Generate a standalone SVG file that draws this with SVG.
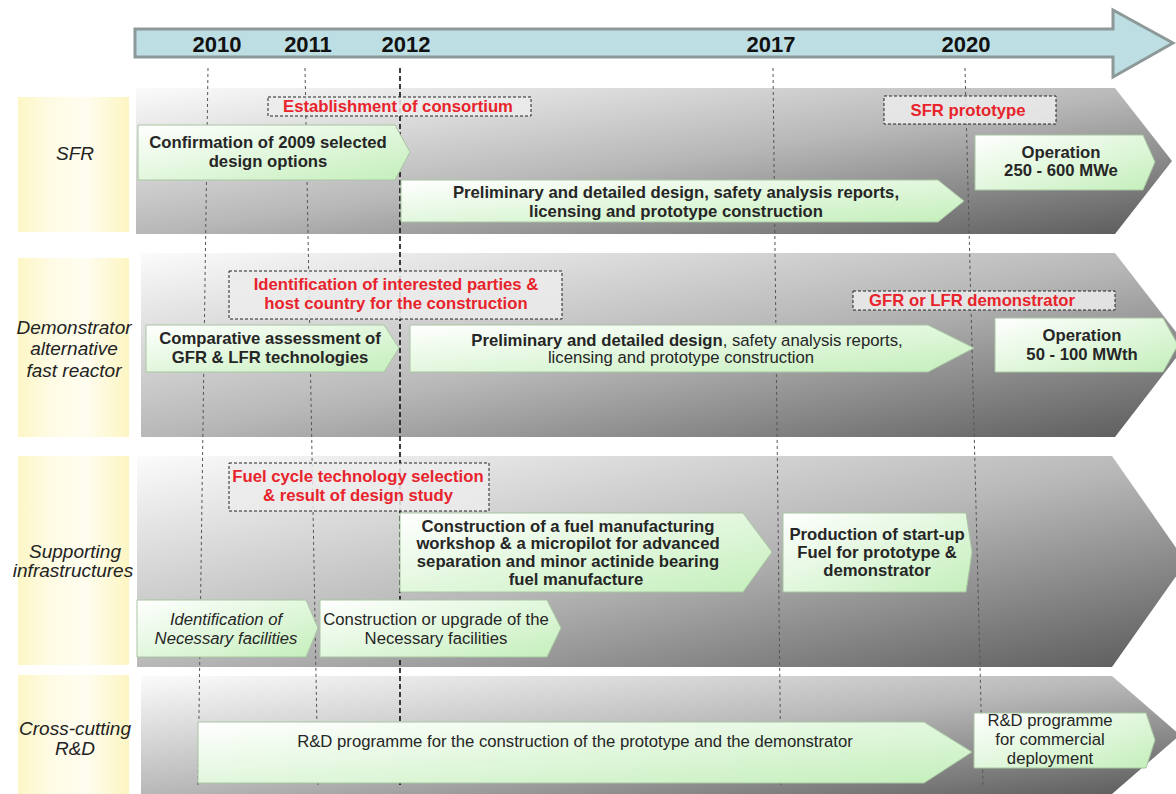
<svg xmlns="http://www.w3.org/2000/svg" width="1176" height="794" viewBox="0 0 1176 794">
<defs>
<linearGradient id="gBand" x1="0" y1="0" x2="1" y2="1">
<stop offset="0" stop-color="#fbfbfb"/>
<stop offset="0.5" stop-color="#b8b8b8"/>
<stop offset="1" stop-color="#5a5a5a"/>
</linearGradient>
<linearGradient id="gGreen" x1="0" y1="0" x2="1" y2="1">
<stop offset="0" stop-color="#ffffff"/>
<stop offset="1" stop-color="#c4efbb"/>
</linearGradient>
<linearGradient id="gYellow" x1="0" y1="0" x2="1" y2="0">
<stop offset="0" stop-color="#fcf6c6"/>
<stop offset="0.3" stop-color="#fefbe4"/>
<stop offset="0.6" stop-color="#fffdf0"/>
<stop offset="1" stop-color="#fcf5c2"/>
</linearGradient>
<style>
.band{fill:url(#gBand);}
.lab{fill:url(#gYellow);}
.node{fill:url(#gGreen);stroke:#a8c6a2;stroke-width:1;}
.call{fill:#ececec;fill-opacity:0.85;stroke:#222;stroke-width:1;stroke-dasharray:3 2;}
.grid{stroke:#555;stroke-width:1;stroke-dasharray:3 3;fill:none;}
.grid2{stroke:#111;stroke-width:1.6;stroke-dasharray:5 3;fill:none;}
text{font-family:"Liberation Sans",Arial,sans-serif;}
.yr{font-size:22px;font-weight:bold;fill:#111;text-anchor:middle;}
.side{font-size:19px;font-style:italic;fill:#222;text-anchor:middle;}
.b{font-size:16.7px;font-weight:bold;fill:#262626;text-anchor:middle;}
.r{font-size:16.7px;fill:#262626;text-anchor:middle;}
.ri{font-size:16.7px;font-style:italic;fill:#262626;text-anchor:middle;}
.red{font-size:16.7px;font-weight:bold;fill:#e8232b;text-anchor:middle;}
</style>
</defs>
<rect width="1176" height="794" fill="#ffffff"/>

<g id="timeline">
<polygon points="135,29 1113,29 1113,10 1173,43 1113,77 1113,57 135,57" fill="#bddfe3" stroke="#8d9898" stroke-width="3"/>
<text class="yr" x="217" y="52">2010</text>
<text class="yr" x="308" y="52">2011</text>
<text class="yr" x="406" y="52">2012</text>
<text class="yr" x="771" y="52">2017</text>
<text class="yr" x="966" y="52">2020</text>
</g>

<g id="lanes">
<polygon class="band" points="136,88 1115,88 1172,161 1115,234 136,234"/>
<polygon class="band" points="141,253 1115,253 1186,345 1115,437 141,437"/>
<polygon class="band" points="137,456 1112,456 1186,562 1112,667 137,667"/>
<polygon class="band" points="141,676 1112,676 1180,735 1112,794 141,794"/>
<rect class="lab" x="18" y="97" width="111" height="135"/>
<rect class="lab" x="18" y="258" width="111" height="179"/>
<rect class="lab" x="18" y="456" width="111" height="209"/>
<rect class="lab" x="18" y="675" width="111" height="119"/>
<text class="side" x="75" y="160">SFR</text>
<text class="side" x="74" y="334">Demonstrator</text>
<text class="side" x="74" y="355">alternative</text>
<text class="side" x="74" y="377">fast reactor</text>
<text class="side" x="75" y="558">Supporting</text>
<text class="side" x="73" y="577">infrastructures</text>
<text class="side" x="75" y="735">Cross-cutting</text>
<text class="side" x="75" y="755">R&amp;D</text>
</g>

<g id="connectors">
<line class="grid" x1="208" y1="68" x2="198" y2="785"/>
<line class="grid" x1="305" y1="68" x2="318" y2="785"/>
<line class="grid2" x1="400" y1="68" x2="400" y2="785"/>
<line class="grid" x1="773" y1="68" x2="781" y2="785"/>
<line class="grid" x1="965" y1="68" x2="983" y2="785"/>
</g>

<g id="n-sfr-confirm">
<polygon class="node" points="138,125 395,125 410,152 395,180 138,180"/>
<text class="b" x="268" y="148">Confirmation of 2009 selected</text>
<text class="b" x="268" y="167">design options</text>
</g>
<g id="n-sfr-prelim">
<polygon class="node" points="401,180 938,180 964,201 938,222 401,222"/>
<text class="b" x="676" y="198">Preliminary and detailed design, safety analysis reports,</text>
<text class="b" x="676" y="217">licensing and prototype construction</text>
</g>
<g id="n-sfr-op">
<polygon class="node" points="975,135 1143,135 1155,162 1143,190 975,190"/>
<text class="b" x="1061" y="158">Operation</text>
<text class="b" x="1061" y="176">250 - 600 MWe</text>
</g>

<g id="n-demo-comp">
<polygon class="node" points="146,325 384,325 399,348 384,372 146,372"/>
<text class="b" x="270" y="344">Comparative assessment of</text>
<text class="b" x="270" y="363">GFR &amp; LFR technologies</text>
</g>
<g id="n-demo-prelim">
<polygon class="node" points="410,325 928,325 974,348 928,372 410,372"/>
<text class="r" x="687" y="346"><tspan font-weight="bold">Preliminary and detailed design</tspan>, safety analysis reports,</text>
<text class="r" x="681" y="363">licensing and prototype construction</text>
</g>
<g id="n-demo-op">
<polygon class="node" points="995,318 1163,318 1178,345 1163,372 995,372"/>
<text class="b" x="1082" y="341">Operation</text>
<text class="b" x="1082" y="360">50 - 100 MWth</text>
</g>

<g id="n-sup-fuelws">
<polygon class="node" points="400,513 743,513 772,552 743,592 400,592"/>
<text class="b" x="568" y="532">Construction of a fuel manufacturing</text>
<text class="b" x="568" y="549">workshop &amp; a micropilot for advanced</text>
<text class="b" x="568" y="567">separation and minor actinide bearing</text>
<text class="b" x="576" y="585">fuel manufacture</text>
</g>
<g id="n-sup-prod">
<polygon class="node" points="783,513 966,513 972,552 966,592 783,592"/>
<text class="b" x="877" y="540">Production of start-up</text>
<text class="b" x="877" y="558">Fuel for prototype &amp;</text>
<text class="b" x="877" y="576">demonstrator</text>
</g>
<g id="n-sup-ident">
<polygon class="node" points="137,600 306,600 318,628 306,657 137,657"/>
<text class="ri" x="226" y="625">Identification of</text>
<text class="ri" x="226" y="644">Necessary facilities</text>
</g>
<g id="n-sup-constr">
<polygon class="node" points="320,600 547,600 561,628 547,657 320,657"/>
<text class="r" x="436" y="625">Construction or upgrade of the</text>
<text class="r" x="436" y="644">Necessary facilities</text>
</g>

<g id="n-rd-main">
<polygon class="node" points="198,722 924,722 972,752 924,783 198,783"/>
<text class="r" x="575" y="747">R&amp;D programme for the construction of the prototype and the demonstrator</text>
</g>
<g id="n-rd-comm">
<polygon class="node" points="974,713 1146,713 1155,740 1146,768 974,768"/>
<text class="r" x="1050" y="726">R&amp;D programme</text>
<text class="r" x="1050" y="745">for commercial</text>
<text class="r" x="1050" y="764">deployment</text>
</g>

<g id="c-consortium">
<rect class="call" x="268" y="97" width="263" height="19"/>
<text class="red" x="398" y="112">Establishment of consortium</text>
</g>
<g id="c-sfr-proto">
<rect class="call" x="884" y="96" width="172" height="28"/>
<text class="red" x="968" y="116">SFR prototype</text>
</g>
<g id="c-parties">
<rect class="call" x="229" y="271" width="333" height="48"/>
<text class="red" x="396" y="290">Identification of interested parties &amp;</text>
<text class="red" x="396" y="309">host country for the construction</text>
</g>
<g id="c-gfr-lfr">
<rect class="call" x="853" y="291" width="262" height="19"/>
<text class="red" x="972" y="306">GFR or LFR demonstrator</text>
</g>
<g id="c-fuelcycle">
<rect class="call" x="229" y="463" width="260" height="48"/>
<text class="red" x="358" y="482">Fuel cycle technology selection</text>
<text class="red" x="358" y="501">&amp; result of design study</text>
</g>
</svg>
